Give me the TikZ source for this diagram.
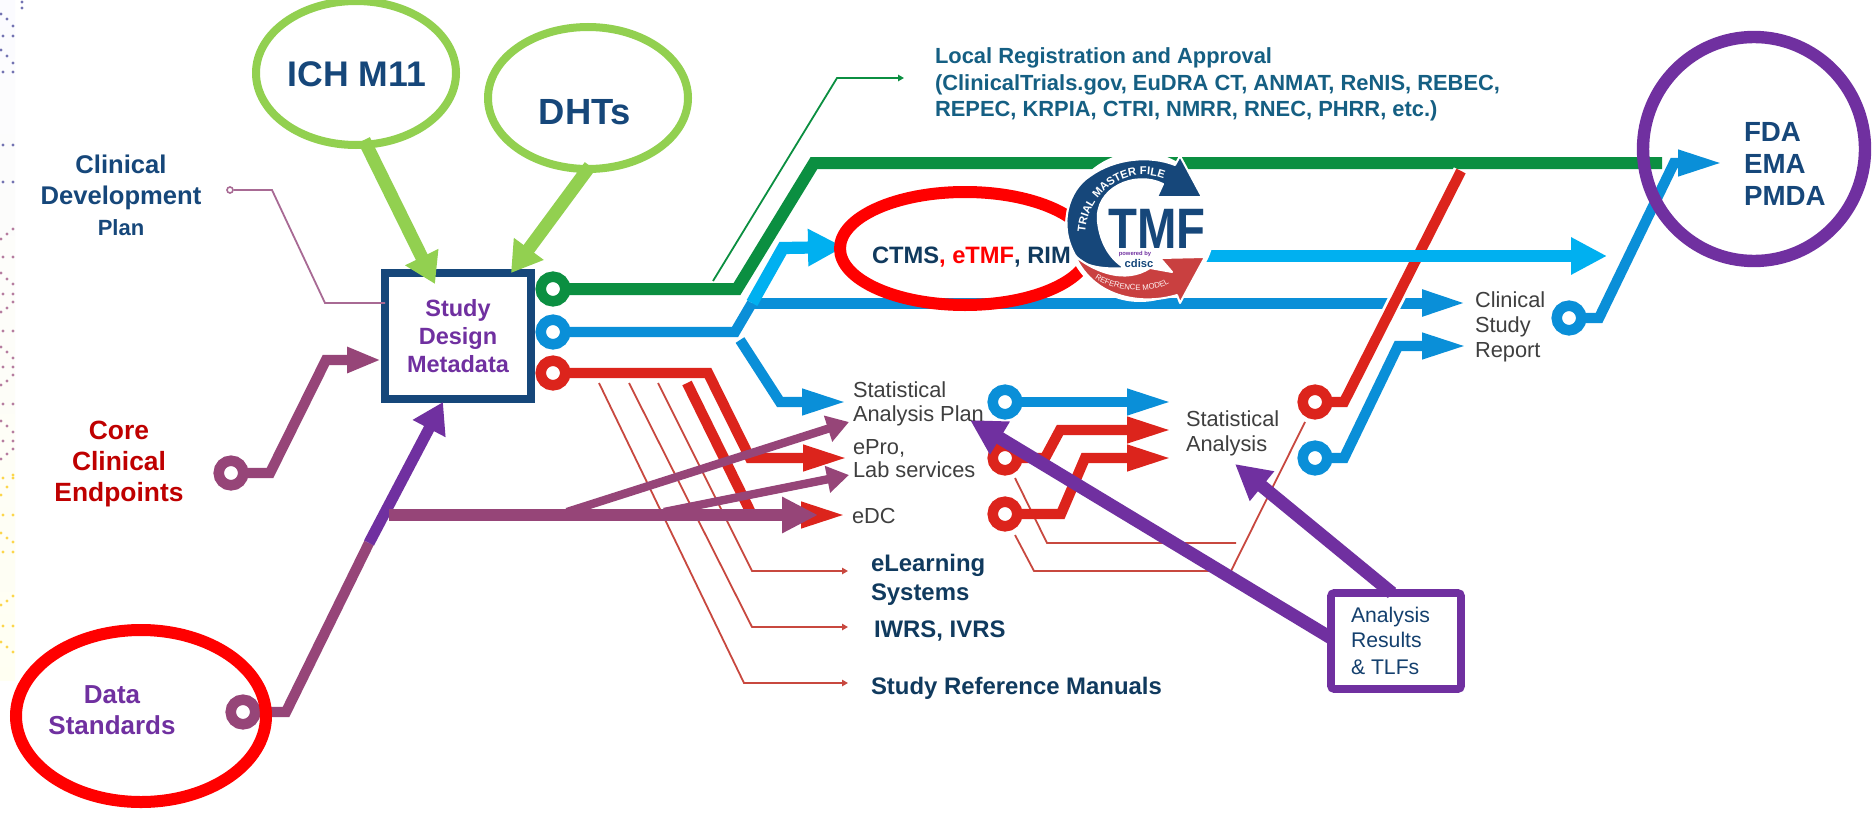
\documentclass[tikz,border=0pt]{standalone}
\usepackage{fontspec}
\setmainfont{Liberation Sans}
\usetikzlibrary{arrows.meta,decorations.text,shapes.geometric}
\definecolor{navy}{HTML}{16477A}
\definecolor{deepnavy}{HTML}{103A5E}
\definecolor{teal}{HTML}{155F83}
\definecolor{greyt}{HTML}{3F3F3F}
\definecolor{gthick}{HTML}{0B8F41}
\definecolor{bthick}{HTML}{0A8FD8}
\definecolor{lblue}{HTML}{00B0F0}
\definecolor{rthick}{HTML}{DC241C}
\definecolor{rthin}{HTML}{C8483F}
\definecolor{mauve}{HTML}{964578}
\definecolor{mthin}{HTML}{A86A94}
\definecolor{purp}{HTML}{7030A0}
\definecolor{lime}{HTML}{92D050}
\definecolor{logored}{HTML}{C94040}
\newcommand{\fpx}[2]{\fontsize{#1}{#2}\selectfont}
\tikzset{
  x=.5pt,y=-.5pt,
  lbl/.style={inner sep=0pt,outer sep=0pt,align=left,anchor=base west},
  clbl/.style={inner sep=0pt,outer sep=0pt,align=center,anchor=base},
  ring/.style={circle,draw=#1,line width=5.25pt,minimum size=12.3pt,inner sep=0pt,outer sep=0pt,fill=white},
  oval/.style={ellipse,inner sep=0pt,outer sep=0pt},
  conn/.style={draw=#1,line width=5.2pt},
  arr/.style={draw=#1,line width=5.2pt,-{Triangle[length=23pt,width=11.8pt,fill=#1]}},
  bigarr/.style={draw=#1,line width=6.1pt,-{Triangle[length=18pt,width=17.5pt,fill=#1]}},
  marr/.style={draw=#1,line width=4.2pt,-{Triangle[length=11pt,width=13pt,fill=#1]}},
  pmarr/.style={draw=purp,line width=6.5pt,-{Triangle[length=17.5pt,width=18pt,fill=purp]}},
  limearr/.style={draw=lime,line width=6.5pt,-{Triangle[length=15pt,width=17.5pt,fill=lime]}},
  thin/.style={draw=#1,line width=.9pt},
  thinarr/.style={draw=#1,line width=.9pt,-{Triangle[length=3pt,width=3.2pt,fill=#1]}},
}
\begin{document}
\begin{tikzpicture}
\useasboundingbox (0,0) rectangle (1872,813);
\fill[white] (0,0) rectangle (1872,813);
% decorative dots
\shade[top color=blue!1.5,bottom color=yellow!5] (0,0) rectangle (15,680);
\foreach \px/\py in {22/2,22/8,1/14,7/19,13/26,3/36,13/36,1/50,7/56,13/63,3/72,13/72,3/145,13/145,3/182,13/182}
  \fill[black!55!blue!55] (\px,\py) circle[radius=1.7];
\foreach \px/\py in {1/239,7/234,13/229,3/257,13/257,1/273,7/279,13/284,3/294,13/294,1/312,7/308,13/302,3/331,13/331,1/347,7/352,13/358,3/367,13/367,1/385,7/381,13/375,3/404,13/404,1/421,7/426,13/432,3/441,13/441,1/459,7/454,13/449}
  \fill[mauve!70] (\px,\py) circle[radius=1.7];
\foreach \px/\py in {3/478,13/478,1/495,7/487,13/475,3/515,13/515,1/533,7/538,13/542,3/552,13/552,1/605,7/601,13/596,3/626,13/626,1/642,7/647,13/652}
  \fill[yellow!60!orange!70] (\px,\py) circle[radius=1.7];

% named anchors for free ends
\coordinate (tEdc) at (847,515);
\coordinate (tEpro) at (849,458);
\coordinate (tElearn) at (848,571);
\coordinate (tIwrs) at (848,627);
\coordinate (tSrm) at (848,683);
\coordinate (tSapB) at (848,402);
\coordinate (tSapM) at (849,422);
\coordinate (tLabM) at (849,475);
\coordinate (tEdcM) at (818,515);
\coordinate (tCtms) at (844,247);
\coordinate (tSa1) at (1173,402);
\coordinate (tSa2) at (1173,430);
\coordinate (tSa3) at (1173,458);
\coordinate (tCsr1) at (1468,303);
\coordinate (tCsr2) at (1468,346);
\coordinate (tLB) at (1607,256);
\coordinate (lbStart) at (1140,256);
\coordinate (tReg) at (1724,163);
\coordinate (tLocal) at (904,78);
\coordinate (tGreen) at (1662,163);
\coordinate (tRed) at (1461,171);
\coordinate (tPlan) at (970,420);
\coordinate (tStat) at (1235,464);
\coordinate (tCore) at (381,360);
\coordinate (tIch) at (435,284);
\coordinate (tDht) at (511,273);
\coordinate (tSdm) at (443,402);
\coordinate (midP) at (369,543);
\coordinate (fork) at (752,303);
\coordinate (forkL) at (740,340);
\coordinate (redBend) at (1344,402);
\coordinate (thinG) at (713,281);
\coordinate (thinA) at (599,383);
\coordinate (thinB) at (629,383);
\coordinate (thinC) at (658,383);
\coordinate (thinD) at (1015,478);
\coordinate (thinE) at (1015,535);
\coordinate (red2) at (687,383);
\coordinate (mStart) at (389,515);
\coordinate (mBranchA) at (567,512);
\coordinate (mBranchB) at (664,512);

% study design box and thin connectors
\node[circle,draw=mthin,line width=.8pt,minimum size=3pt,inner sep=0pt] (cdpDot) at (230,190) {};
\node[draw=navy,line width=4pt,minimum width=73pt,minimum height=63pt,inner sep=0pt,outer sep=0pt,fill=white,
  align=center,text=purp,font=\bfseries\fpx{11.75}{14.2}] (sdm) at (458,336) {Study\\Design\\Metadata};
\draw[thin=mthin] (cdpDot) -- (272,190) -- (325,303) -- (sdm.west |- 0,303);
\draw[thinarr=gthick] (thinG) -- (837,78) -- (tLocal);
\draw[thinarr=rthin] (thinA) -- (744,683) -- (tSrm);
\draw[thinarr=rthin] (thinB) -- (752,627) -- (tIwrs);
\draw[thinarr=rthin] (thinC) -- (752,571) -- (tElearn);
\draw[thin=rthin] (thinD) -- (1047,543) -- (1236,543);
\draw[thin=rthin] (thinE) -- (1034,571) -- (1231,571) -- (1305,422);

% rings
\node[ring=gthick] (rG) at (553,289) {};
\node[ring=bthick] (rB) at (553,332) {};
\node[ring=rthick] (rR) at (553,373) {};
\node[ring=rthick] (rR2) at (1005,458) {};
\node[ring=rthick] (rR3) at (1005,514) {};
\node[ring=bthick] (rB2) at (1005,402) {};
\node[ring=bthick] (rB3) at (1315,458) {};
\node[ring=bthick] (rB4) at (1569,318) {};
\node[ring=mauve] (rM1) at (231,473) {};
\node[ring=mauve] (rM2) at (243,712) {};

% main connectors
\draw[conn=gthick,line width=6pt] (rG.east) -- (737,289) -- (814,163) -- (tGreen);
\draw[conn=bthick] (rB.east) -- (735,332) -- (fork);
\draw[arr=bthick,line width=5.5pt] (fork) -- (tCsr1);
\draw[arr=bthick] (forkL) -- (780,402) -- (tSapB);
\draw[arr=rthick] (rR.east) -- (708,373) -- (750,458) -- (tEpro);
\draw[arr=rthick] (red2) -- (752,515) -- (tEdc);
\draw[arr=bthick] (rB2.east) -- (tSa1);
\draw[arr=rthick] (rR2.east) -- (1045,458) -- (1060,430) -- (tSa2);
\draw[arr=rthick] (rR3.east) -- (1061,514) -- (1085,458) -- (tSa3);
\draw[arr=bthick] (rB3.east) -- (1344,458) -- (1398,346) -- (tCsr2);
\draw[arr=bthick] (rB4.east) -- (1599,318) -- (1674,163) -- (tReg);
\draw[white,line width=8pt] (redBend) -- (tRed);
\node[ring=rthick] (rR4) at (1315,402) {};
\draw[conn=rthick] (rR4.east) -- (redBend) -- (tRed);
\draw[bigarr=lblue] (fork) -- (783,248) -- (tCtms);
\draw[bigarr=lblue] (lbStart) -- (tLB);
\node[oval,draw=red,line width=6pt,minimum width=125pt,minimum height=56.5pt] (ovalC) at (965,248.5) {};

% TMF logo
\node[circle,fill=white,minimum size=75pt,inner sep=0pt] (tmfBack) at (1140,227) {};
\fill[navy,draw=white,line width=1pt,line join=round] (1125,268) .. controls (1100,270) and (1080,265) .. (1075,255)
  .. controls (1058,225) and (1068,190) .. (1090,176)
  .. controls (1115,158) and (1150,155) .. (1175,165)
  -- (1180,156) -- (1202,197) -- (1157,197) -- (1163,184)
  .. controls (1135,170) and (1094,188) .. (1098,222)
  .. controls (1100,240) and (1108,258) .. (1125,268) -- cycle;
\fill[logored,draw=white,line width=1pt,line join=round] (1075,256)
  .. controls (1095,272) and (1125,284) .. (1150,268)
  -- (1172,272) -- (1160,258) -- (1205,257) -- (1180,303) -- (1177,295)
  .. controls (1145,305) and (1095,300) .. (1075,256) -- cycle;
\node[clbl,text=navy,font=\bfseries\fpx{28.5}{30}] (tmfT) at (1157,248) {\scalebox{.83}[1]{TMF}};
\path[decorate,decoration={text along path,text color=white,text align={center},
  text={|\bfseries\fpx{5.6}{7}|TRIAL MASTER FILE}}]
  (1085,236) .. controls (1086,192.8) and (1128,162) .. (1167,180);
\path[decorate,decoration={text along path,text color=white!85!pink,text align={center},
  text={|\fpx{3.9}{5}|REFERENCE MODEL}}]
  (1096,279) .. controls (1115,292) and (1150,294) .. (1168,284);
\node[clbl,text=purp,font=\bfseries\fpx{2.9}{3.5}] (powBy) at (1135,255) {powered by};
\node[clbl,text=navy,font=\bfseries\fpx{5.6}{6}] (cdisc) at (1139,267) {cdisc};

% lime callouts
\node[oval,draw=lime,line width=4pt,minimum width=100pt,minimum height=72pt] (ovalI) at (356,73) {};
\node[oval,draw=lime,line width=4pt,minimum width=100pt,minimum height=71pt] (ovalD) at (588,98) {};
\draw[limearr] (ovalI) ++(8,67) -- (tIch);
\draw[limearr] (ovalD) ++(2,68) -- (tDht);

% mauve arrows
\draw[arr=mauve,-{Triangle[length=17pt,width=12pt,fill=mauve]}] (rM1.east) -- (270,473) -- (326,360) -- (tCore);
\draw[conn=mauve] (rM2.east) -- (286,712) -- (midP);
\draw[draw=purp,line width=5.6pt,-{Triangle[length=15pt,width=17.5pt,fill=purp]}] (midP) -- (tSdm);
\draw[draw=mauve,line width=6pt,-{Triangle[length=18pt,width=17pt,fill=mauve]}] (mStart) -- (tEdcM);
\draw[marr=mauve] (mBranchA) -- (tSapM);
\draw[marr=mauve] (mBranchB) -- (tLabM);

% big oval & purple callouts
\node[oval,draw=purp,line width=6.2pt,minimum width=111pt,minimum height=112pt] (ovalF) at (1754,149) {};
\node[draw=purp,line width=3.8pt,rounded corners=1.5pt,minimum width=65pt,minimum height=48pt,inner sep=0pt,outer sep=0pt,fill=white] (tlf) at (1396,641) {};
\draw[pmarr] (tlf.west |- 0,638) -- (tPlan);
\draw[pmarr] (tlf.north -| 1392,0) -- (tStat);
\node[oval,draw=red,line width=6pt,minimum width=125pt,minimum height=86pt] (ovalS) at (141,716) {};

% labels
\node[clbl,text=navy,font=\bfseries\fpx{17.8}{20}] (ich) at (357,87) {ICH M11};
\node[clbl,text=navy,font=\bfseries\fpx{18.2}{20}] (dht) at (585,125) {DHTs};
\node[clbl,text=navy,font=\bfseries\fpx{12.8}{15.5}] (cdp) at (121,235) {Clinical\\Development\\{\fpx{11}{15.5}Plan}};
\node[clbl,text=red!75!black,font=\bfseries\fpx{13.2}{15.5}] (cce) at (119,501) {Core\\Clinical\\Endpoints};
\node[clbl,text=purp,font=\bfseries\fpx{13}{15.5}] (ds) at (112,734) {Data\\Standards};
\node[lbl,text=teal,font=\bfseries\fpx{10.95}{13.4}] (loc) at (935,117) {Local Registration and Approval\\(ClinicalTrials.gov, EuDRA CT, ANMAT, ReNIS, REBEC,\\REPEC, KRPIA, CTRI, NMRR, RNEC, PHRR, etc.)};
\node[lbl,text=deepnavy,font=\bfseries\fpx{11.85}{14}] (ctms) at (872,263) {CTMS{\color{red}, eTMF}, RIM};
\node[lbl,text=greyt,font=\fpx{10.9}{12}] (sap) at (853,421) {Statistical\\Analysis Plan};
\node[lbl,text=greyt,font=\fpx{10.9}{11.5}] (epro) at (853,477) {ePro,\\Lab services};
\node[lbl,text=greyt,font=\fpx{10.9}{12}] (edc) at (852,523) {eDC};
\node[lbl,text=greyt,font=\fpx{10.9}{12.5}] (sa) at (1186,451) {Statistical\\Analysis};
\node[lbl,text=greyt,font=\fpx{10.9}{12.5}] (csr) at (1475,357) {Clinical\\Study\\Report};
\node[lbl,text=deepnavy,font=\bfseries\fpx{11.95}{14.5}] (el) at (871,600) {eLearning\\Systems};
\node[lbl,text=deepnavy,font=\bfseries\fpx{11.95}{14}] (iw) at (874,637) {IWRS, IVRS};
\node[lbl,text=deepnavy,font=\bfseries\fpx{11.95}{14}] (srm) at (871,694) {Study Reference Manuals};
\node[lbl,text=navy,font=\bfseries\fpx{13.85}{16}] (reg) at (1744,205) {FDA\\EMA\\PMDA};
\node[lbl,text=navy!90!black,font=\fpx{10.6}{12.3}] (tlfT) at (1351,674) {Analysis\\Results\\[1pt]\& TLFs};
\end{tikzpicture}
\end{document}
